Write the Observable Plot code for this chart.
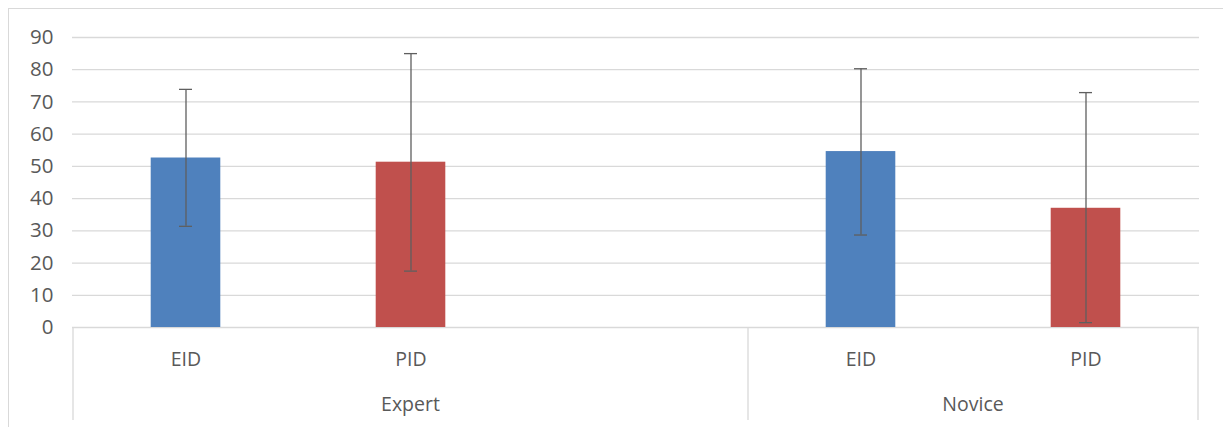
<!DOCTYPE html>
<html>
<head>
<meta charset="utf-8">
<script src="https://cdn.jsdelivr.net/npm/d3@7"></script>
<script src="https://cdn.jsdelivr.net/npm/@observablehq/plot@0.6"></script>
<style>
  html, body { margin: 0; padding: 0; background: #ffffff; overflow: hidden; }
  #wrap { position: relative; width: 1223px; height: 427px; overflow: hidden; }
  #frame { position: absolute; left: 8px; top: 8px; width: 1240px; height: 440px; border: 1px solid #d9d9d9; box-sizing: border-box; }
  #chart { position: absolute; left: 0; top: 0; }
  #chart svg { font-family: "Open Sans", sans-serif; }
</style>
</head>
<body>
<div id="wrap"><div id="frame"></div><div id="chart"></div></div>
<script>
// Data
const slotGroup = ["Expert", "Expert", "Expert", "Novice", "Novice"];
const slotLabel = ["EID", "PID", "", "EID", "PID"];
const means = [52.6, 51.3, null, 54.6, 37.0];
const lower = [31.4, 17.5, null, 28.7, 1.5];
const upper = [73.9, 85.0, null, 80.3, 72.9];
const groupNames = ["Expert", "Novice"];
const seriesNames = ["EID", "PID"];
const seriesColors = ["#4F81BD", "#C0504D"];
const yTicks = [0, 10, 20, 30, 40, 50, 60, 70, 80, 90];

const keys = slotGroup.map((g, i) => `${g}|${slotLabel[i]}|${i}`);
const rows = keys.map((k, i) => ({key: k, group: slotGroup[i], series: slotLabel[i], mean: means[i], lo: lower[i], hi: upper[i]}))
  .filter(d => d.mean != null);

const textColor = "#595959";
const lineColor = "#d9d9d9";

function hierarchy(index, scales, values, dims) {
  const x = scales.x;
  const bw = (typeof x.bandwidth === "number") ? x.bandwidth : (x(keys[1]) - x(keys[0]));
  const y0 = dims.height - dims.marginBottom;
  const g = d3.create("svg:g");
  const edges = new Set();
  groupNames.forEach(name => {
    const ks = keys.filter((k, i) => slotGroup[i] === name);
    const x1 = x(ks[0]), x2 = x(ks[ks.length - 1]) + bw;
    edges.add(x1); edges.add(x2);
    g.append("text")
      .attr("x", (x1 + x2) / 2)
      .attr("y", y0 + 84)
      .attr("text-anchor", "middle")
      .attr("fill", textColor)
      .attr("font-size", 19.5)
      .text(name);
  });
  edges.forEach(ex => {
    g.append("line")
      .attr("x1", ex).attr("x2", ex)
      .attr("y1", y0).attr("y2", y0 + 93)
      .attr("stroke", lineColor)
      .attr("stroke-width", 1.3);
  });
  return g.node();
}

const chart = Plot.plot({
  width: 1223,
  height: 427,
  marginLeft: 72,
  marginRight: 24,
  marginTop: 37,
  marginBottom: 100,
  style: {color: textColor, background: "transparent"},
  x: {type: "band", domain: keys, padding: 0, axis: null},
  y: {domain: [0, 90], axis: null},
  color: {domain: seriesNames, range: seriesColors},
  marks: [
    Plot.gridY(yTicks, {stroke: lineColor, strokeOpacity: 1, strokeWidth: 1.3}),
    Plot.axisY(yTicks, {tickSize: 0, tickPadding: 19, fontSize: 20.5, label: null, fill: textColor}),
    Plot.barY(rows, {x: "key", y: "mean", fill: "series", insetLeft: 77.7, insetRight: 77.7}),
    Plot.ruleX(rows, {x: "key", y1: "lo", y2: "hi", stroke: "#5f5f5f", strokeWidth: 1.3}),
    Plot.tickY(rows, {x: "key", y: "lo", stroke: "#5f5f5f", strokeWidth: 1.3, insetLeft: 106, insetRight: 106}),
    Plot.tickY(rows, {x: "key", y: "hi", stroke: "#5f5f5f", strokeWidth: 1.3, insetLeft: 106, insetRight: 106}),
    Plot.axisX({tickSize: 0, tickPadding: 24.5, fontSize: 19.5, label: null, fill: textColor,
      tickFormat: k => k.split("|")[1]}),
    hierarchy
  ]
});
document.getElementById("chart").appendChild(chart);
</script>
</body>
</html>
